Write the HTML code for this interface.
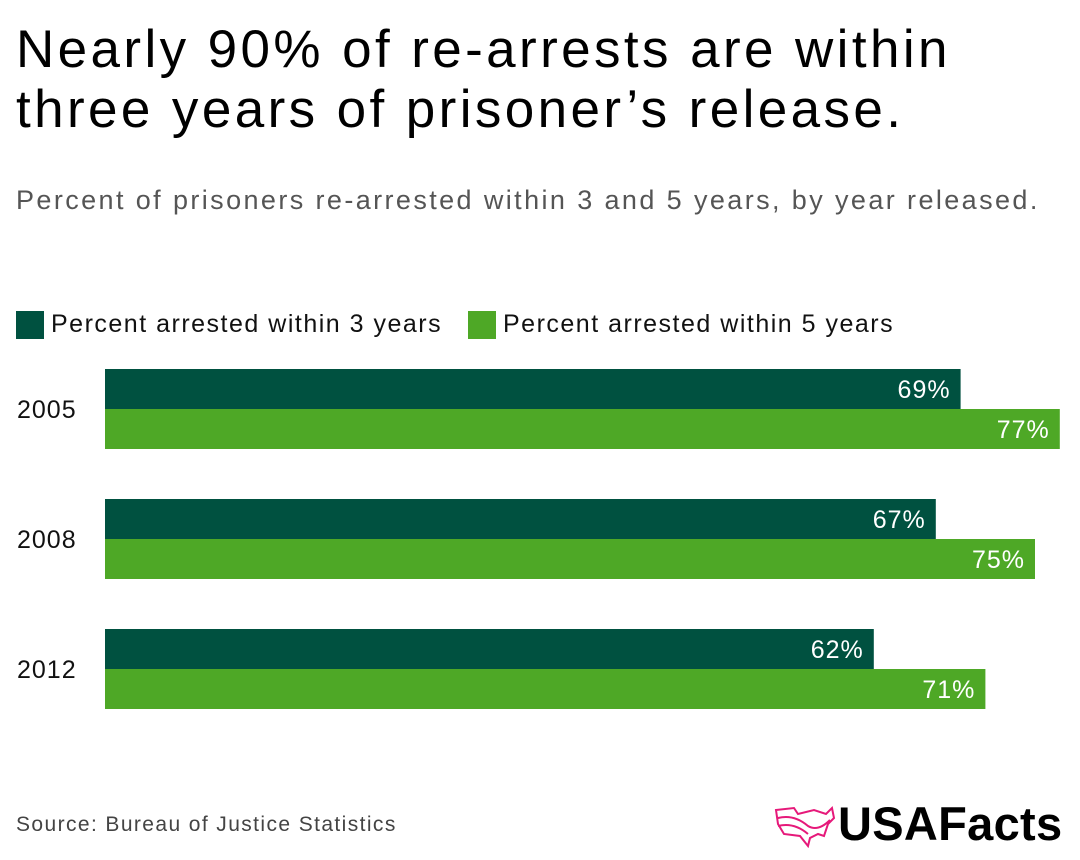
<!DOCTYPE html>
<html><head><meta charset="utf-8"><style>
body{margin:0;width:1080px;height:860px;background:#fff;font-family:"Liberation Sans",sans-serif;position:relative;overflow:hidden}
.t{position:absolute;left:16px;top:20px;font-size:53px;line-height:60px;color:#000;letter-spacing:3.4px;white-space:nowrap}
.s{position:absolute;left:16px;top:185px;font-size:27px;color:#555;letter-spacing:2.4px;white-space:nowrap}
.lg{position:absolute;top:310px;font-size:25px;color:#111;display:flex;align-items:center;letter-spacing:1.5px;white-space:nowrap}
.sw{width:28px;height:28px;margin-right:7px}
.src{position:absolute;left:16px;top:813px;font-size:21px;color:#444;letter-spacing:1.4px}
.logo{position:absolute;left:838px;top:796px;font-size:47px;font-weight:bold;color:#000;letter-spacing:0.3px}
</style></head><body>
<div class="t">Nearly 90% of re-arrests are within<br>three years of prisoner’s release.</div>
<div class="s">Percent of prisoners re-arrested within 3 and 5 years, by year released.</div>
<div class="lg" style="left:16px"><div class="sw" style="background:#005140"></div>Percent arrested within 3 years</div>
<div class="lg" style="left:468px"><div class="sw" style="background:#4ea826"></div>Percent arrested within 5 years</div>
<svg id="c" width="1080" height="860" style="position:absolute;left:0;top:0"></svg>
<div class="src">Source: Bureau of Justice Statistics</div>
<svg style="position:absolute;left:774px;top:804px" width="62" height="44"><path d="M2 6 L20 4 L24 10 L40 6 L52 10 L58 4 L60 14 L54 20 L50 32 L44 30 L36 34 L34 42 L26 32 L10 30 L4 20 Z M4 14 Q20 10 34 22 Q44 28 56 16 M4 22 Q20 18 34 30" fill="none" stroke="#e6197a" stroke-width="2"/></svg>
<div class="logo">USAFacts</div>
<script>
const years=["2005","2008","2012"];
const within3=[69,67,62];
const within5=[77,75,71];
const svg=document.getElementById('c');
const NS='http://www.w3.org/2000/svg';
const x0=105,scale=12.4;
function xs(v){return x0+v*scale;}
function yTop(i){return 369+i*130;}
function mk(t,a){const e=document.createElementNS(NS,t);for(const k in a)e.setAttribute(k,a[k]);svg.appendChild(e);return e;}
years.forEach((y,i)=>{
  const yt=yTop(i);
  const lab=mk('text',{x:17,y:yt+49,'font-size':25,fill:'#111','font-family':'Liberation Sans','letter-spacing':1});
  lab.textContent=y;
  
  
  [[within3,'#005140',0,'3yr'],[within5,'#4ea826',40,'5yr']].forEach(([arr,col,off,nm])=>{
    const r=mk('rect',{x:x0,y:yt+off,width:xs(arr[i])-x0,height:40,fill:col});
    
    
    const t=mk('text',{x:xs(arr[i])-10,y:yt+off+29,'font-size':25,fill:'#fff','text-anchor':'end','font-family':'Liberation Sans','letter-spacing':1});
    t.textContent=arr[i]+'%';
    
    
  });
});
</script>
</body></html>
